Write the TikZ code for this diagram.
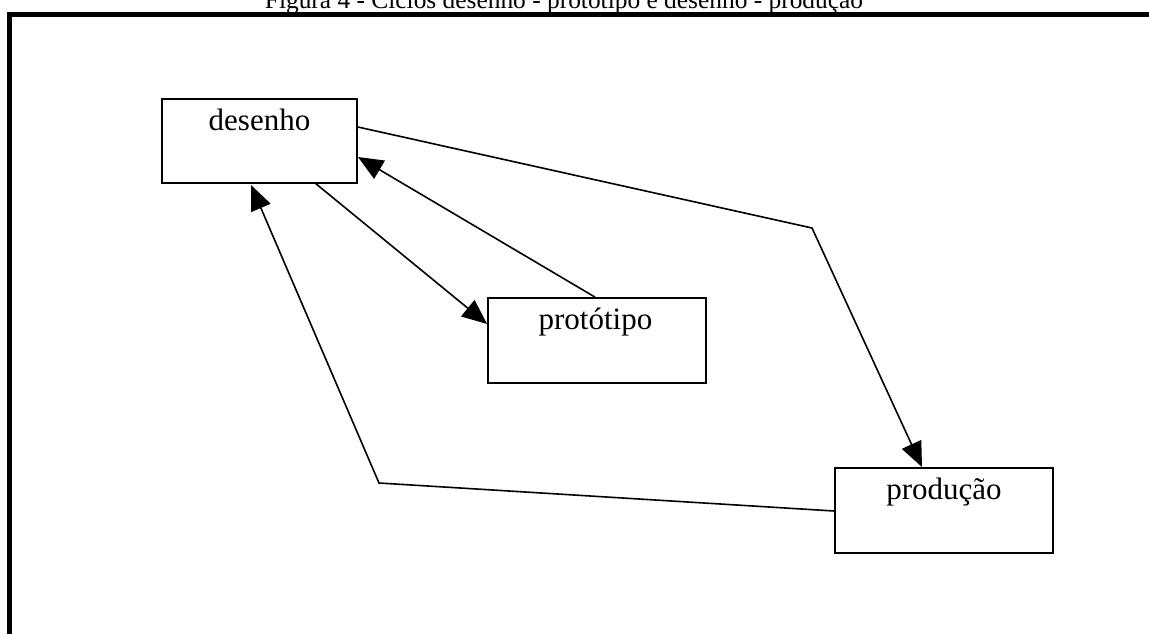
\documentclass[tikz,border=0pt]{standalone}
\usepackage{fontspec}
\setmainfont{Liberation Serif}
\usetikzlibrary{arrows.meta}
\begin{document}
\begin{tikzpicture}[x=1pt,y=-1pt,
  box/.style={draw,line width=1.8pt,minimum width=#1,minimum height=85pt,inner sep=0pt},
  boxtext/.style={font=\fontsize{31}{31}\selectfont,anchor=base},
  link/.style={line width=1.6pt},
  tip/.style={link,-{Triangle[length=25pt,width=21pt]}},
  frame/.style={line width=5pt}]
  \useasboundingbox (0,0) rectangle (1149,633);
  % caption, partly above the page edge
  \node[font=\fontsize{25.4}{25.4}\selectfont,anchor=base] (caption) at (564,8)
    {Figura 4 - Ciclos desenho - protótipo e desenho - produção};
  % heavy frame around the drawing area
  \draw[frame] (9.5,650) -- (9.5,14.5) -- (1170,14.5);
  % boxes
  \node[box=195pt,minimum height=84pt] (desenho) at (259.5,141) {};
  \node[box=218pt] (prototipo) at (597,340.5) {};
  \node[box=218pt] (producao) at (944,510.5) {};
  \node[boxtext] (desenho-t) at (259.5,130) {desenho};
  \node[boxtext] (prototipo-t) at (595.5,329) {protótipo};
  \node[boxtext] (producao-t) at (944,499) {produção};
  % bend points
  \coordinate (b1) at (812,228);
  \coordinate (b2) at (379,483);
  % connectors
  \draw[tip] (desenho.east |- 0,127) -- (b1) -- (producao.north -| 922,0);
  \draw[tip] (315,183) -- (prototipo.west |- 0,324);
  \draw[tip] (prototipo.north -| 595,0) -- (358,157);
  \draw[tip] (producao.west |- 0,511) -- (b2) -- (251,185);
\end{tikzpicture}
\end{document}
